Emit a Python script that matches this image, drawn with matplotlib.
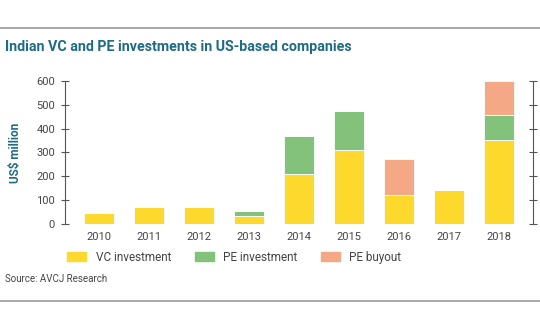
import numpy as np
import matplotlib.pyplot as plt
from matplotlib.patches import Patch
from matplotlib.lines import Line2D

plt.rcParams['font.family'] = ['Roboto', 'DejaVu Sans']

years = ['2010', '2011', '2012', '2013', '2014', '2015', '2016', '2017', '2018']
vc_investment = [48, 72, 72, 36, 208, 310, 124, 142, 352]
pe_investment = [0, 0, 0, 20, 159, 163, 0, 0, 104]
pe_buyout = [0, 0, 0, 0, 0, 0, 149, 0, 144]

c_vc = '#FDD92E'
c_pe = '#82C27A'
c_buy = '#F4A886'
teal = '#1F6B85'
grey_txt = '#444444'

fig = plt.figure(figsize=(5.4, 3.34), dpi=100)
ax = fig.add_axes([0.12, 0.329, 0.867, 0.429])

x = np.arange(len(years))
vc = np.array(vc_investment)
pe = np.array(pe_investment)
buy = np.array(pe_buyout)
w = 0.6
ax.bar(x, vc, w, color=c_vc, edgecolor='white', linewidth=0.6)
ax.bar(x, pe, w, bottom=vc, color=c_pe, edgecolor='white', linewidth=0.6)
ax.bar(x, buy, w, bottom=vc + pe, color=c_buy, edgecolor='white', linewidth=0.6)

ax.set_xlim(-0.69, 8.69)
ax.set_ylim(0, 600)
ax.set_yticks(range(0, 601, 100))
ax.set_xticks(x)
ax.set_xticklabels(years)

for s in ['top', 'bottom']:
    ax.spines[s].set_visible(False)
for s in ['left', 'right']:
    ax.spines[s].set_color('#555555')
    ax.spines[s].set_linewidth(0.8)

ax.tick_params(axis='x', length=0, labelsize=8, colors=grey_txt, pad=6)
ax.tick_params(axis='y', direction='inout', length=6, width=0.8, color='#555555',
               labelsize=8, labelcolor=grey_txt, pad=4)
ax.tick_params(axis='y', which='both', right=True, labelright=False)

ax.set_ylabel('US$ million', color=teal, fontsize=8.5, fontweight='bold', labelpad=10)

handles = [Patch(color=c_vc), Patch(color=c_pe), Patch(color=c_buy)]
labels = ['VC investment', 'PE investment', 'PE buyout']
fig.legend(handles, labels, loc='center left', bbox_to_anchor=(0.105, 0.23), ncol=3,
           frameon=False, fontsize=8.5, handlelength=1.6, handleheight=0.7,
           columnspacing=2.0, handletextpad=0.8, labelcolor=grey_txt)

fig.text(0.01, 0.858, 'Indian VC and PE investments in US-based companies',
         color=teal, fontsize=10.3, fontweight='bold', va='center')
fig.text(0.01, 0.165, 'Source: AVCJ Research', color=grey_txt, fontsize=7, va='center')

fig.add_artist(Line2D([0, 1], [1 - 28 / 334] * 2, color='#999999', linewidth=1.2))
fig.add_artist(Line2D([0, 1], [1 - 301 / 334] * 2, color='#999999', linewidth=1.2))

fig.savefig('out.png', dpi=100)
